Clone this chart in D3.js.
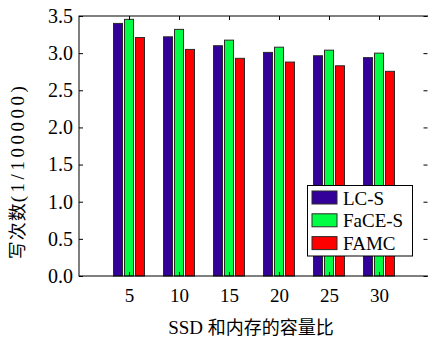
<!DOCTYPE html>
<html>
<head>
<meta charset="utf-8">
<script src="https://cdn.jsdelivr.net/npm/d3@7/dist/d3.min.js"></script>
<style>
  html, body { margin: 0; padding: 0; background: #fff; }
  svg { display: block; }
</style>
</head>
<body>
<svg id="chart" width="428" height="338" style="font-family: 'Liberation Serif', serif;"></svg>
<script>
// Write counts per SSD/memory capacity ratio
const ratios = [5, 10, 15, 20, 25, 30];
const seriesNames = ["LC-S", "FaCE-S", "FAMC"];
const lcS   = [3.40, 3.22, 3.10, 3.01, 2.965, 2.94];
const faceS = [3.455, 3.32, 3.175, 3.08, 3.04, 3.00];
const famc  = [3.21, 3.05, 2.93, 2.88, 2.83, 2.755];
const yTicks = [0, 0.5, 1.0, 1.5, 2.0, 2.5, 3.0, 3.5];
const colors = ["#330099", "#00ff44", "#ff0000"];

const series = [lcS, faceS, famc];

const svg = d3.select("#chart");
const plotL = 79, plotR = 429, plotT = 16, plotB = 276;

const x = d3.scaleLinear().domain([0, 35]).range([plotL, plotR]);
const y = d3.scaleLinear().domain([0, 3.5]).range([plotB, plotT]);

const SERIF = '"Liberation Serif", serif';
const CJK = '"Noto Sans CJK SC", sans-serif';

// bars: width 0.9 units, groups offset by 1.1 units
const barW = 0.9, step = 1.1;
series.forEach((vals, si) => {
  svg.append("g").selectAll("rect")
    .data(vals.map((v, i) => ({ c: ratios[i], v })))
    .join("rect")
    .attr("x", d => x(d.c + (si - 1) * step - barW / 2))
    .attr("width", x(barW) - x(0))
    .attr("y", d => y(d.v))
    .attr("height", d => y(0) - y(d.v))
    .attr("fill", colors[si])
    .attr("stroke", "#2a2a2a")
    .attr("stroke-width", 1);
});

// frame
svg.append("rect")
  .attr("x", plotL).attr("y", plotT)
  .attr("width", plotR - plotL).attr("height", plotB - plotT)
  .attr("fill", "none").attr("stroke", "#000");

// axes with inward ticks; labels on left and bottom
function styleAxis(g, size) {
  g.select(".domain").remove();
  g.attr("font-family", null).attr("font-size", null)
    .style("font-family", SERIF).style("font-size", size + "px");
  g.selectAll("line").attr("stroke", "#000");
  g.selectAll("text").attr("fill", "#000")
    .style("font-family", SERIF).style("font-size", size + "px");
}

svg.append("g").attr("transform", `translate(${plotL},0)`)
  .call(d3.axisLeft(y).tickValues(yTicks).tickSize(-4).tickPadding(6).tickFormat(d3.format(".1f")))
  .call(g => styleAxis(g, 20));

svg.append("g").attr("transform", `translate(0,${plotB})`)
  .call(d3.axisBottom(x).tickValues(ratios).tickSize(-4).tickPadding(12.5).tickFormat(d3.format("d")))
  .call(g => styleAxis(g, 19));

svg.append("g").attr("transform", `translate(${plotR - 1.5},0)`)
  .call(d3.axisRight(y).tickValues(yTicks).tickSize(-4).tickFormat(""))
  .call(g => styleAxis(g, 19));

svg.append("g").attr("transform", `translate(0,${plotT})`)
  .call(d3.axisTop(x).tickValues(ratios).tickSize(-4).tickFormat(""))
  .call(g => styleAxis(g, 19));

// axis titles
const xt = svg.append("text").attr("x", 251).attr("y", 334).attr("text-anchor", "middle")
  .style("font-family", SERIF).style("font-size", "19px");
xt.append("tspan").style("font-family", SERIF).style("font-size", "19px").text("SSD ");
xt.append("tspan").style("font-family", CJK).style("font-size", "18px").text("和内存的容量比");

const yt = svg.append("text")
  .attr("transform", "translate(24,171) rotate(-90)")
  .attr("text-anchor", "middle")
  .style("font-family", SERIF).style("font-size", "19px");
yt.append("tspan").style("font-family", CJK).style("font-size", "18px").attr("letter-spacing", 1).text("写次数");
yt.append("tspan").style("font-family", SERIF).style("font-size", "19px").attr("letter-spacing", 3.5).text("(1/100000)");

// legend
const lg = svg.append("g");
lg.append("rect").attr("x", 307.5).attr("y", 185.5).attr("width", 105).attr("height", 70.5)
  .attr("fill", "#fff").attr("stroke", "#000");
seriesNames.forEach((name, i) => {
  const yy = 191 + i * 22.8;
  lg.append("rect").attr("x", 312).attr("y", yy).attr("width", 25).attr("height", 13)
    .attr("fill", colors[i]).attr("stroke", "#2a2a2a");
  lg.append("text").style("font-family", SERIF).style("font-size", "19px")
    .attr("x", 343).attr("y", yy + 13.5).text(name);
});
</script>
</body>
</html>
